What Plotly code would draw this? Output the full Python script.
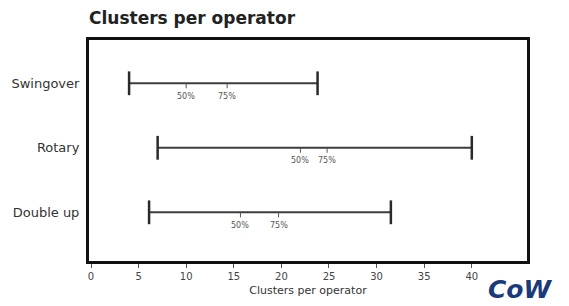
import plotly.graph_objects as go

# ---- data ----
categories = ["Swingover", "Rotary", "Double up"]
min_vals = [4.0, 7.0, 6.1]
max_vals = [23.8, 40.0, 31.5]
p50_vals = [10.0, 22.0, 15.7]
p75_vals = [14.3, 24.8, 19.7]
pct_labels = ["50%", "75%"]
x_ticks = [0, 5, 10, 15, 20, 25, 30, 35, 40]
title_text = "Clusters per operator"
x_title = "Clusters per operator"

FONT = "DejaVu Sans"
ypos = list(range(len(categories) - 1, -1, -1))  # top to bottom

# page body has an 8px margin, so the figure is drawn offset by 8px
W, H = 561, 298

fig = go.Figure()
for i, cat in enumerate(categories):
    y = ypos[i]
    fig.add_trace(go.Scatter(
        x=[min_vals[i], max_vals[i]], y=[y, y],
        mode="lines+markers",
        line=dict(color="#3c3c3c", width=2),
        marker=dict(symbol="line-ns", size=17, color="#2a2a2a",
                    line=dict(width=2.5, color="#2a2a2a")),
        hoverinfo="skip", showlegend=False,
    ))
    for v, lab in zip([p50_vals[i], p75_vals[i]], pct_labels):
        fig.add_shape(type="line", xref="x", yref="y", x0=v, x1=v,
                      ysizemode="pixel", yanchor=y, y0=0, y1=-5,
                      line=dict(color="#555555", width=1))
        fig.add_annotation(x=v, y=y, xref="x", yref="y", text=lab,
                           showarrow=False, yshift=-13,
                           font=dict(family=FONT, size=8, color="#555555"))

fig.update_xaxes(
    range=[-0.21, 45.8], tickvals=x_ticks, ticktext=[str(t) for t in x_ticks],
    ticks="outside", ticklen=4, tickwidth=1, tickcolor="#555555",
    showline=True, linecolor="#111111", linewidth=3, mirror=True,
    showgrid=False, zeroline=False, automargin=False,
    tickfont=dict(family=FONT, size=10, color="#444444"),
    title=dict(text=x_title, font=dict(family=FONT, size=11, color="#333333"), standoff=6),
)
fig.update_yaxes(
    range=[-0.755, 2.671], tickvals=ypos, ticktext=categories,
    ticks="", showline=True, linecolor="#111111", linewidth=3, mirror=True,
    showgrid=False, zeroline=False, ticklabelstandoff=4, automargin=False,
    tickfont=dict(family=FONT, size=13, color="#333333"),
)

# logo approximation
fig.add_annotation(xref="paper", yref="paper", x=0.986, y=-0.131,
                   xanchor="center", yanchor="middle", text="<b><i>CoW</i></b>",
                   showarrow=False, font=dict(family=FONT, size=25, color="#1b3a7a"))

fig.update_layout(
    width=W, height=H,
    margin=dict(l=81, r=42, t=32, b=45, autoexpand=False),
    paper_bgcolor="white", plot_bgcolor="white",
    title=dict(text="<b>" + title_text + "</b>", x=81 / W, xanchor="left",
               y=1 - 10 / H, yanchor="middle",
               font=dict(family=FONT, size=17, color="#222222")),
)

fig.write_html("out.html")
